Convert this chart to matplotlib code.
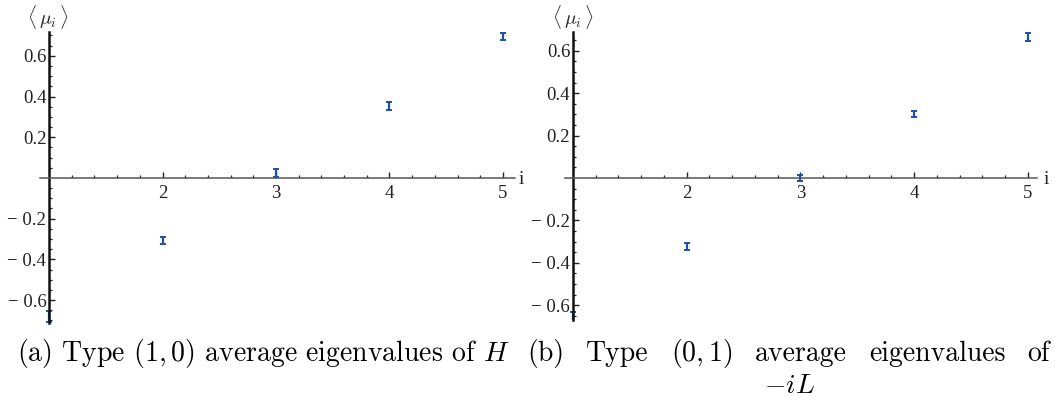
import numpy as np
import matplotlib
matplotlib.use('Agg')
import matplotlib.pyplot as plt
from matplotlib.ticker import FixedLocator, FixedFormatter

plt.rcParams['mathtext.fontset'] = 'cm'

# mean eigenvalues <mu_i>
idx = [1, 2, 3, 4, 5]
mu_a = [-0.683, -0.307, 0.025, 0.354, 0.695]
err_a = [0.027, 0.016, 0.02, 0.018, 0.018]
mu_b = [-0.656, -0.325, 0.0, 0.302, 0.665]
err_b = [0.024, 0.016, 0.014, 0.016, 0.018]

yticks = [-0.6, -0.4, -0.2, 0.2, 0.4, 0.6]
ytick_labels = ['\u2212 0.6', '\u2212 0.4', '\u2212 0.2', '0.2', '0.4', '0.6']
xticks = [2, 3, 4, 5]
xtick_labels = ['2', '3', '4', '5']

W, H = 1055, 404
fig = plt.figure(figsize=(W / 100, H / 100), dpi=100)


def px_axes(x0, x1, y_top, y_bot):
    return fig.add_axes([x0 / W, 1 - y_bot / H, (x1 - x0) / W, (y_bot - y_top) / H])


def setup(ax, mu, err, xlim, ylim):
    ax.errorbar(idx, mu, yerr=err, fmt='none', ecolor='#1f4fa8',
                elinewidth=1.6, capsize=2.2, capthick=1.4, zorder=2)
    ax.set_xlim(*xlim)
    ax.set_ylim(*ylim)
    ax.spines['top'].set_visible(False)
    ax.spines['right'].set_visible(False)
    ax.spines['left'].set_position(('data', 1))
    ax.spines['bottom'].set_position(('data', 0))
    ax.spines['left'].set_linewidth(1.8)
    ax.spines['left'].set_color('#111111')
    ax.spines['bottom'].set_linewidth(1.1)
    ax.spines['bottom'].set_color('#555555')
    ax.yaxis.set_major_locator(FixedLocator(yticks))
    ax.yaxis.set_major_formatter(FixedFormatter(ytick_labels))
    ax.xaxis.set_major_locator(FixedLocator(xticks))
    ax.xaxis.set_major_formatter(FixedFormatter(xtick_labels))
    ymin = [v for v in np.arange(-0.7, 0.71, 0.05) if min(abs(v - t) for t in yticks + [0]) > 1e-6]
    xmin = [v for v in np.arange(1.2, 5.01, 0.2) if min(abs(v - t) for t in xticks) > 1e-6]
    ax.yaxis.set_minor_locator(FixedLocator(ymin))
    ax.xaxis.set_minor_locator(FixedLocator(xmin))
    ax.tick_params(which='both', direction='in', color='#222222')
    ax.tick_params(which='major', length=4, width=1.0)
    ax.tick_params(which='minor', length=2.5, width=0.9)
    ax.tick_params(axis='y', pad=2)
    ax.tick_params(axis='x', pad=5)
    for lab in ax.get_xticklabels() + ax.get_yticklabels():
        lab.set_fontfamily('Liberation Serif')
        lab.set_fontsize(13.5)
        lab.set_color('#222222')


ax1 = px_axes(40, 515, 32, 323)
setup(ax1, mu_a, err_a, (0.92, 5.106), (-0.7125, 0.717))
ax2 = px_axes(565, 1037, 32, 320)
setup(ax2, mu_b, err_b, (0.93, 5.08), (-0.67, 0.689))

# axis labels
for xc, xi in [(48, 521), (573, 1046)]:
    fig.text(xc / W, 1 - 17 / H, r'$\langle\,\mu_i\,\rangle$', fontsize=14,
             ha='center', va='center', color='#222222')
    fig.text(xi / W, 1 - 180 / H, 'i', fontsize=14, fontfamily='Liberation Serif',
             ha='center', va='center', color='#222222')

# captions
cap_fs = 20
fig.text(263 / W, 1 - 354 / H, r'(a) Type $(1,0)$ average eigenvalues of $H$',
         fontsize=cap_fs, fontfamily='cmr10', ha='center', va='center')

words = ['(b)', 'Type', r'$(0,1)$', 'average', 'eigenvalues', 'of']
x_left, x_right = 527, 1050
texts = [fig.text(0, 1 - 354 / H, w, fontsize=cap_fs, fontfamily='cmr10',
                  ha='left', va='center') for w in words]
fig.canvas.draw()
r = fig.canvas.get_renderer()
widths = [t.get_window_extent(r).width for t in texts]
gap = (x_right - x_left - sum(widths)) / (len(words) - 1)
x = x_left
for t, w in zip(texts, widths):
    t.set_x(x / W)
    x += w + gap
fig.text(790 / W, 1 - 385 / H, r'$-iL$', fontsize=cap_fs, ha='center', va='center')

fig.savefig('out.png', dpi=100)
